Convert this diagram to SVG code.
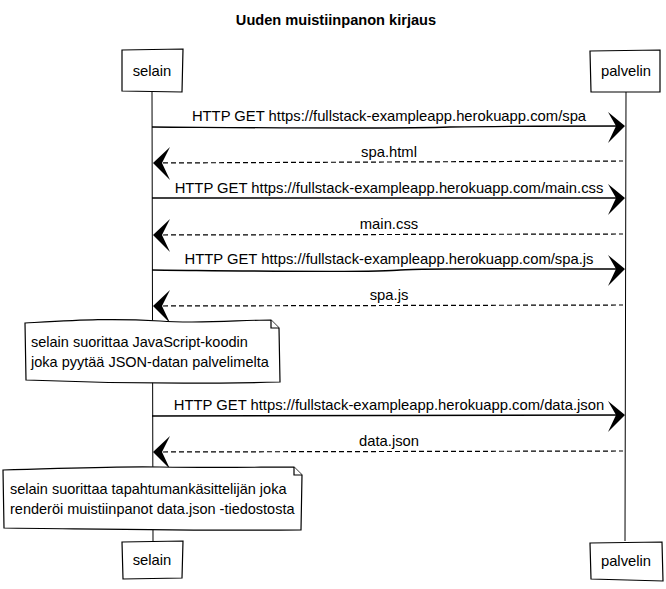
<svg xmlns="http://www.w3.org/2000/svg" width="666" height="589" viewBox="0 0 666 589">
<style>
text{font-family:"Liberation Sans",Arial,sans-serif;font-size:14.8px;fill:#000}
.t{font-size:14.6px;font-weight:bold}
.m{text-anchor:middle}
.p{font-size:14.8px}
.n{font-size:14.5px}
.box{fill:#fff;stroke:#000;stroke-width:1.2}
.life{stroke:#000;stroke-width:1;fill:none}
.msg{stroke:#000;stroke-width:1.4;fill:none}
.ret{stroke:#000;stroke-width:1.2;fill:none;stroke-dasharray:5,3}
.head{fill:#000}
</style>
<rect width="666" height="589" fill="#fff"/>
<text class="t m" x="336" y="25">Uuden muistiinpanon kirjaus</text>
<g id="lifelines">
<path class="life" d="M152,92 L153,542"/>
<path class="life" d="M626,92 L625,541"/>
</g>
<g id="selain-top"><path class="box" d="M122,50 L183,49 L182,92 L122,91 Z"/><text class="m p" x="152" y="76">selain</text></g>
<g id="palvelin-top"><path class="box" d="M590,51 L660,50 L660,92 L591,92 Z"/><text class="m p" x="626" y="76">palvelin</text></g>
<g id="selain-bottom"><path class="box" d="M122,542 L183,541 L182,578 L123,579 Z"/><text class="m p" x="152" y="565">selain</text></g>
<g id="palvelin-bottom"><path class="box" d="M590,543 L662,542 L663,581 L591,579 Z"/><text class="m p" x="626" y="566">palvelin</text></g>
<g id="connectors">
<path class="msg" d="M152,127 C300,128 400,129 450,127 C520,126 580,126 624,126"/>
<path class="head" d="M625,126 L608,112 L616,126 L608,143 Z"/>
<text class="m" x="389" y="121">HTTP GET https://fullstack-exampleapp.herokuapp.com/spa</text>
<path class="ret" d="M155,163 L623,161"/>
<path class="head" d="M153,163 L170,147 L162,163 L170,180 Z"/>
<text class="m" x="389" y="157">spa.html</text>
<path class="msg" d="M152,198 L624,198"/>
<path class="head" d="M625,198 L608,184 L616,198 L608,215 Z"/>
<text class="m" x="389" y="193">HTTP GET https://fullstack-exampleapp.herokuapp.com/main.css</text>
<path class="ret" d="M155,235 L623,234"/>
<path class="head" d="M153,235 L170,219 L162,235 L170,252 Z"/>
<text class="m" x="389" y="229">main.css</text>
<path class="msg" d="M152,270 C250,271 380,273 400,270 C430,268 500,269 624,269"/>
<path class="head" d="M625,269 L608,255 L616,269 L608,286 Z"/>
<text class="m" x="389" y="264">HTTP GET https://fullstack-exampleapp.herokuapp.com/spa.js</text>
<path class="ret" d="M155,306 L623,305"/>
<path class="head" d="M153,306 L170,290 L162,306 L170,323 Z"/>
<text class="m" x="389" y="300">spa.js</text>
<path class="msg" d="M152,416 L624,415"/>
<path class="head" d="M625,415 L608,401 L616,415 L608,432 Z"/>
<text class="m" x="389" y="410">HTTP GET https://fullstack-exampleapp.herokuapp.com/data.json</text>
<path class="ret" d="M155,452 L623,451"/>
<path class="head" d="M153,452 L170,436 L162,452 L170,469 Z"/>
<text class="m" x="389" y="446">data.json</text>
</g>
<g id="note1">
<path class="box" d="M25,323 C80,320 110,318 160,321 C200,324 240,320 271,320 L279,328 L280,382 C200,384 100,383 26,380 Z"/>
<path class="box" d="M271,320 L271,328 L279,328"/>
<text class="n" x="31" y="347">selain suorittaa JavaScript-koodin</text>
<text class="n" x="31" y="367">joka pyytää JSON-datan palvelimelta</text>
</g>
<g id="note2">
<path class="box" d="M3,470 C80,468 120,466 160,467 C220,468 260,467 294,467 L302,475 L301,530 C200,531 100,529 4,528 Z"/>
<path class="box" d="M294,467 L294,475 L302,475"/>
<text class="n" x="10" y="494">selain suorittaa tapahtumankäsittelijän joka</text>
<text class="n" x="10" y="514">renderöi muistiinpanot data.json -tiedostosta</text>
</g>
</svg>
